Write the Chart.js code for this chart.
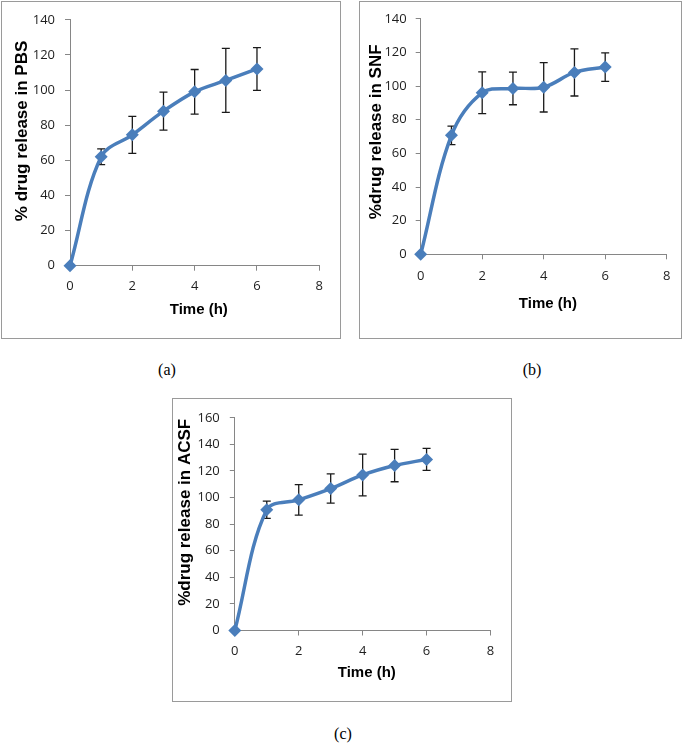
<!DOCTYPE html>
<html>
<head>
<meta charset="utf-8">
<script src="https://cdn.jsdelivr.net/npm/chart.js@4"></script>
<style>
  body { margin: 0; background: #fff; }
  #page { position: relative; width: 685px; height: 744px; overflow: hidden; }
  .box { position: absolute; box-sizing: border-box; border: 1px solid #9a9a9a; }
  canvas { position: absolute; }
  .cap { position: absolute; font: 16px "Liberation Serif", serif; color: #000; transform: translateX(-50%); }
</style>
</head>
<body>
<div id="page">
  <div class="box" style="left:1px;top:1px;width:340px;height:338px"></div>
  <div class="box" style="left:359px;top:1px;width:323px;height:338px"></div>
  <div class="box" style="left:172px;top:398px;width:340px;height:304px"></div>
  <canvas id="pbs" width="338" height="335" style="left:2px;top:2px"></canvas>
  <canvas id="snf" width="321" height="335" style="left:360px;top:2px"></canvas>
  <canvas id="acsf" width="337" height="301" style="left:174px;top:400px"></canvas>
  <div class="cap" style="left:167px;top:361px">(a)</div>
  <div class="cap" style="left:532px;top:361px">(b)</div>
  <div class="cap" style="left:343px;top:725px">(c)</div>
</div>
<script>
// time points (h)
const timeH = [0, 1, 2, 3, 4, 5, 6];

// % drug release, mean and error
const pbsRelease = [0, 62, 74.5, 88, 99, 105.5, 112];
const pbsError = [0, 4.5, 10.5, 10.8, 12.7, 18.2, 12.2];

const snfRelease = [0, 70.7, 96, 98.6, 99.3, 108.1, 111.3];
const snfError = [0, 5.5, 12.4, 9.7, 14.7, 14, 8.5];

const acsfRelease = [0, 90.8, 98.3, 106.8, 117, 124.1, 128.7];
const acsfError = [0, 6.5, 11.5, 11, 15.7, 12.2, 8.3];

const axisGrey = '#868686';
const blue = '#4a7ebb';

const errorBars = {
  id: 'errorBars',
  beforeDatasetsDraw(chart) {
    const { ctx } = chart;
    const x = chart.scales.x, y = chart.scales.y;
    chart.data.datasets.forEach(ds => {
      ctx.save();
      ctx.strokeStyle = '#1a1a1a';
      ctx.lineWidth = 1.3;
      ds.data.forEach((p, i) => {
        const e = ds.errors[i];
        if (!e) return;
        const px = x.getPixelForValue(p.x);
        const top = y.getPixelForValue(p.y + e);
        const bot = y.getPixelForValue(p.y - e);
        ctx.beginPath();
        ctx.moveTo(px, top); ctx.lineTo(px, bot);
        ctx.moveTo(px - 4, top); ctx.lineTo(px + 4, top);
        ctx.moveTo(px - 4, bot); ctx.lineTo(px + 4, bot);
        ctx.stroke();
      });
      ctx.restore();
    });
  }
};

function drawPanel(id, values, errors, yMax, yTitle, g) {
  const ctx = document.getElementById(id).getContext('2d');
  new Chart(ctx, {
    type: 'line',
    data: {
      datasets: [{
        data: timeH.map((t, i) => ({ x: t, y: values[i] })),
        errors: errors,
        borderColor: blue,
        backgroundColor: blue,
        borderWidth: 3.5,
        tension: 0.35,
        pointStyle: 'rectRot',
        pointRadius: 6.5,
        pointBorderWidth: 0,
        clip: false
      }]
    },
    options: {
      responsive: false,
      animation: false,
      devicePixelRatio: 1,
      layout: { padding: { left: 0, top: g.padTop, right: g.padRight, bottom: 0 } },
      plugins: { legend: { display: false }, tooltip: { enabled: false } },
      scales: {
        x: {
          type: 'linear',
          min: 0, max: 8,
          afterFit: s => { s.height = g.xHeight; },
          border: { color: axisGrey, width: 1 },
          grid: { drawOnChartArea: false, color: axisGrey, tickLength: 5 },
          ticks: { stepSize: 2, padding: g.xTickPad, color: '#1e1e1e', font: { family: 'Open Sans', size: 13 } },
          title: {
            display: true, text: '  Time (h)', color: '#000',
            font: { family: 'Liberation Sans', size: 15, weight: 'bold' },
            padding: { top: 0, bottom: g.xTitlePad }
          }
        },
        y: {
          min: 0, max: yMax,
          afterFit: s => { s.width = g.yWidth; },
          border: { color: axisGrey, width: 1 },
          grid: { drawOnChartArea: false, color: axisGrey, tickLength: 5 },
          ticks: { stepSize: 20, padding: g.yTickPad, color: '#1e1e1e', font: { family: 'Open Sans', size: 13 } },
          title: {
            display: true, text: yTitle, color: '#000',
            font: { family: 'Liberation Sans', size: 17, weight: 'bold' },
            padding: { top: g.yTitlePad, bottom: 0 }
          }
        }
      }
    },
    plugins: [errorBars]
  });
}

drawPanel('pbs', pbsRelease, pbsError, 140, '     % drug release in PBS',
  { padTop: 15.7, padRight: 20.7, xHeight: 71.3, xTickPad: 8.2, xTitlePad: 18, yWidth: 68, yTickPad: 10, yTitlePad: 9.8 });

drawPanel('snf', snfRelease, snfError, 140, '  %drug release in SNF',
  { padTop: 8, padRight: 14.3, xHeight: 82.7, xTickPad: 9.6, xTitlePad: 24, yWidth: 60.7, yTickPad: 9, yTitlePad: 6 });

drawPanel('acsf', acsfRelease, acsfError, 160, '     %drug release in ACSF',
  { padTop: 15.7, padRight: 20.5, xHeight: 70.5, xTickPad: 7.7, xTitlePad: 18.7, yWidth: 60.8, yTickPad: 10, yTitlePad: 1 });
</script>
</body>
</html>
